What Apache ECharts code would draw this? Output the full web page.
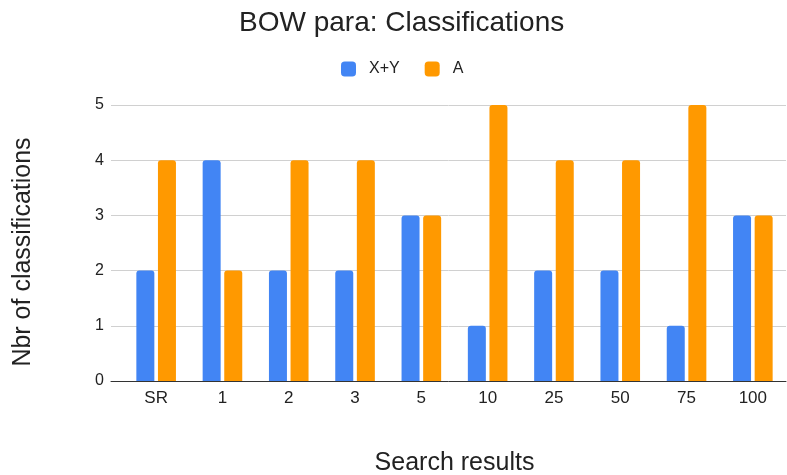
<!DOCTYPE html>
<html><head><meta charset="utf-8">
<script src="https://cdn.jsdelivr.net/npm/echarts@6/dist/echarts.min.js"></script>
<style>html,body{margin:0;padding:0;background:#fff}#c{width:787px;height:475px}</style>
</head><body><div id="c"></div>
<script>
const categories = ['SR','1','2','3','5','10','25','50','75','100'];
const seriesXY = [2,4,2,2,3,1,2,2,1,3];
const seriesA = [4,2,4,4,3,5,4,4,5,3];
const yTicks = [0,1,2,3,4,5];

const FF = '"Liberation Sans", Arial, sans-serif';
const TXT = '#222';
const chart = echarts.init(document.getElementById('c'));
chart.setOption({
  animation: false,
  textStyle: {fontFamily: FF},
  title: {text: 'BOW para: Classifications', left: 234, top: 4,
    textStyle: {fontSize: 28, fontWeight: 'normal', color: TXT, fontFamily: FF}},
  legend: {top: 56, left: 336, itemWidth: 15, itemHeight: 15, itemGap: 25,
    icon: 'roundRect',
    textStyle: {fontSize: 16, color: TXT, fontFamily: FF, padding: [0,0,0,8]},
    data: ['X+Y','A']},
  grid: [
    {left: 111, right: 1, top: 105, bottom: 94, containLabel: false, outerBoundsMode: 'none'},
    {left: 123, right: 1, top: 105, bottom: 94, containLabel: false, outerBoundsMode: 'none'}
  ],
  xAxis: [
    {gridIndex: 0, type: 'category', data: categories,
      axisTick: {show: false}, axisLabel: {show: false},
      axisLine: {lineStyle: {color: '#333', width: 1}},
      name: 'Search results', nameLocation: 'middle', nameGap: 70,
      nameTextStyle: {fontSize: 25, color: TXT, fontFamily: FF, padding: [0,0,0,12]}},
    {gridIndex: 1, type: 'category', data: categories,
      axisTick: {show: false}, axisLine: {show: false},
      axisLabel: {color: TXT, fontSize: 17, margin: 9, fontFamily: FF}}
  ],
  yAxis: [
    {gridIndex: 0, type: 'value', min: yTicks[0], max: yTicks[yTicks.length-1], interval: 1,
      name: 'Nbr of classifications', nameLocation: 'middle', nameGap: 75,
      nameTextStyle: {fontSize: 25, color: TXT, fontFamily: FF, padding: [0,18,0,0]},
      axisLine: {show: false}, axisTick: {show: false},
      axisLabel: {color: TXT, fontSize: 16, margin: 7, fontFamily: FF},
      splitLine: {lineStyle: {color: '#d0d0d0'}}},
    {gridIndex: 1, type: 'value', min: yTicks[0], max: yTicks[yTicks.length-1], interval: 1,
      show: false}
  ],
  series: [
    {name: 'X+Y', type: 'bar', xAxisIndex: 1, yAxisIndex: 1, data: seriesXY, barWidth: 18, barGap: '20%',
      itemStyle: {color: '#4285F4', borderRadius: [3,3,0,0]}},
    {name: 'A', type: 'bar', xAxisIndex: 1, yAxisIndex: 1, data: seriesA, barWidth: 18,
      itemStyle: {color: '#FF9900', borderRadius: [3,3,0,0]}}
  ]
});
</script></body></html>
